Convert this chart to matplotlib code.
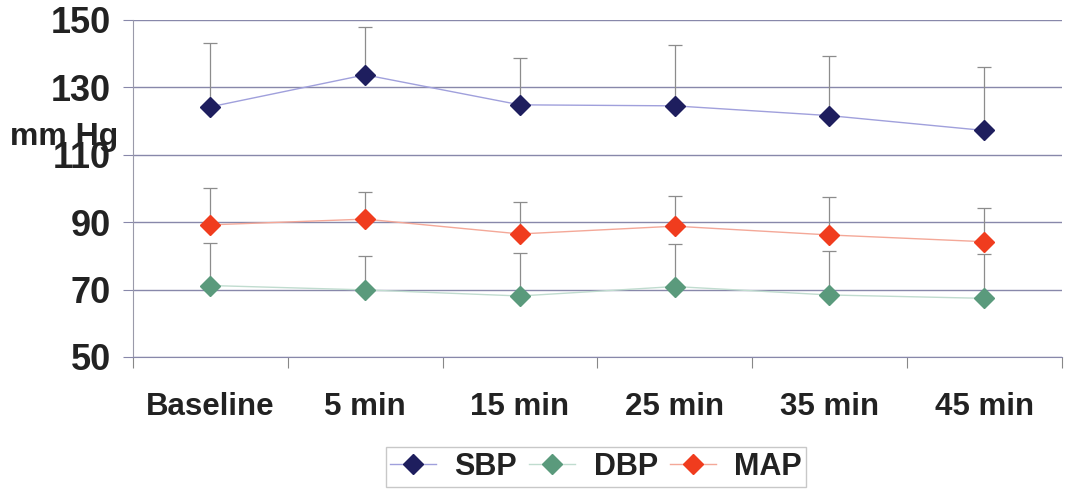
import matplotlib
matplotlib.use("Agg")
import matplotlib.pyplot as plt
import numpy as np

plt.rcParams['font.family'] = ['Liberation Sans', 'DejaVu Sans']

categories = ["Baseline", "5 min", "15 min", "25 min", "35 min", "45 min"]
sbp = [124.2, 133.7, 124.8, 124.5, 121.6, 117.2]
sbp_upper = [143.2, 148.0, 138.7, 142.6, 139.4, 136.0]
dbp = [71.2, 69.9, 68.1, 70.9, 68.4, 67.4]
dbp_upper = [83.9, 80.0, 80.9, 83.4, 81.5, 80.6]
map_ = [89.2, 90.9, 86.5, 88.8, 86.2, 84.2]
map_upper = [100.1, 98.9, 96.0, 97.8, 97.6, 94.1]
yticks = [50, 70, 90, 110, 130, 150]

fig = plt.figure(figsize=(10.68, 4.97), dpi=100)
ax = fig.add_axes([0.1245, 0.2817, 0.8695, 0.6783])

x = np.arange(len(categories)) + 0.5

series = [
    ("SBP", sbp, sbp_upper, "#1e1e5e", "#a0a0dc"),
    ("DBP", dbp, dbp_upper, "#5a9a7c", "#c0dccf"),
    ("MAP", map_, map_upper, "#f03c1e", "#f4a898"),
]

for name, vals, upper, mcol, lcol in series:
    vals = np.array(vals)
    err = np.array(upper) - vals
    ax.errorbar(x, vals, yerr=[np.zeros_like(err), err], fmt='none',
                ecolor='#8c8c8c', elinewidth=0.9, capsize=5, capthick=0.9, zorder=2)
    ax.plot(x, vals, color=lcol, lw=1.0, zorder=3)
    ax.plot(x, vals, linestyle='none', marker='D', markersize=10,
            markerfacecolor=mcol, markeredgecolor=mcol, zorder=4)
    ax.plot([], [], color=lcol, lw=1.0, marker='D', markersize=10,
            markerfacecolor=mcol, markeredgecolor=mcol, label=name)

ax.set_xlim(0, len(categories))
ax.set_ylim(50, 150)
ax.set_yticks(yticks)
ax.set_yticklabels([str(t) for t in yticks], fontsize=26, fontweight='bold', color='#222222')
ax.yaxis.grid(True, color='#8888aa', lw=1.0)
ax.set_axisbelow(True)

ax.set_xticks(np.arange(0, len(categories) + 1))
ax.set_xticklabels([])
ax.set_xticks(x, minor=True)
ax.set_xticklabels(categories, minor=True, fontsize=22.5, fontweight='bold', color='#222222')
ax.tick_params(axis='x', which='major', length=8, color='#888888', direction='out')
ax.tick_params(axis='x', which='minor', length=0, pad=25)
ax.tick_params(axis='y', length=7, color='#8888aa', pad=9)

for s in ['top', 'right']:
    ax.spines[s].set_visible(False)
ax.spines['left'].set_color('#9a9aaa')
ax.spines['bottom'].set_color('#8888aa')

fig.text(64 / 1068, 1 - 137 / 497, "mm Hg", fontsize=23, fontweight='bold',
         color='#222222', ha='center', va='center')

leg = fig.legend(loc='center', bbox_to_anchor=(596 / 1068, 1 - 467 / 497), ncol=3,
                 prop={'size': 22, 'weight': 'bold'}, frameon=True, fancybox=False,
                 handlelength=1.5, columnspacing=0.4, handletextpad=0.6,
                 borderpad=0.15, borderaxespad=0)
leg.get_frame().set_edgecolor('#bbbbbb')
leg.get_frame().set_linewidth(1.0)
for t in leg.get_texts():
    t.set_color('#222222')

fig.savefig("out.png", dpi=100, facecolor='white')
